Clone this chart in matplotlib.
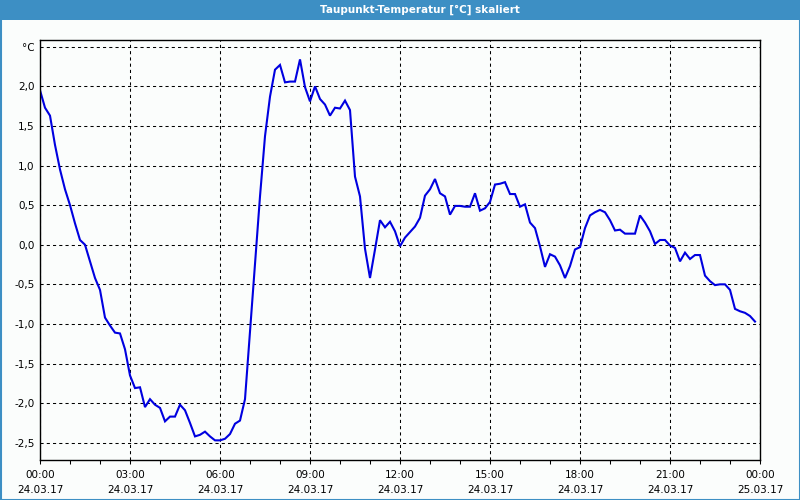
import matplotlib
matplotlib.use("Agg")
import matplotlib.pyplot as plt
from matplotlib.patches import Rectangle
import numpy as np

# Time in hours (10-minute steps) and dew point values in °C
hours = [i / 6 for i in range(144)]
taupunkt = [
    1.95, 1.73, 1.63, 1.26, 0.95, 0.70, 0.50, 0.27, 0.06, 0.00,
    -0.21, -0.42, -0.57, -0.92, -1.02, -1.11, -1.12, -1.32, -1.65, -1.81,
    -1.80, -2.05, -1.95, -2.02, -2.06, -2.23, -2.17, -2.17, -2.02, -2.09,
    -2.25, -2.42, -2.40, -2.36, -2.42, -2.47, -2.47, -2.45, -2.39, -2.26,
    -2.22, -1.95, -1.10, -0.25, 0.61, 1.37, 1.87, 2.21, 2.27, 2.05,
    2.06, 2.06, 2.34, 1.99, 1.81, 2.00, 1.84, 1.77, 1.63, 1.73,
    1.72, 1.82, 1.70, 0.86, 0.61, -0.05, -0.42, -0.06, 0.31, 0.22,
    0.29, 0.17, -0.02, 0.09, 0.16, 0.23, 0.34, 0.62, 0.70, 0.83,
    0.65, 0.61, 0.38, 0.49, 0.49, 0.48, 0.48, 0.65, 0.43, 0.46,
    0.54, 0.76, 0.77, 0.79, 0.64, 0.64, 0.48, 0.51, 0.28, 0.21,
    -0.02, -0.28, -0.12, -0.15, -0.26, -0.42, -0.27, -0.06, -0.03, 0.21,
    0.37, 0.41, 0.44, 0.41, 0.31, 0.18, 0.19, 0.14, 0.14, 0.14,
    0.37, 0.28, 0.17, 0.01, 0.06, 0.06, -0.01, -0.04, -0.21, -0.10,
    -0.18, -0.13, -0.13, -0.39, -0.46, -0.51, -0.50, -0.50, -0.57, -0.81,
    -0.84, -0.86, -0.90, -0.97,
]

x_ticks = [0, 3, 6, 9, 12, 15, 18, 21, 24]
x_labels = ["00:00\n24.03.17", "03:00\n24.03.17", "06:00\n24.03.17",
            "09:00\n24.03.17", "12:00\n24.03.17", "15:00\n24.03.17",
            "18:00\n24.03.17", "21:00\n24.03.17", "00:00\n25.03.17"]
y_ticks = [-2.5, -2.0, -1.5, -1.0, -0.5, 0.0, 0.5, 1.0, 1.5, 2.0, 2.5]
y_labels = ["-2,5", "-2,0", "-1,5", "-1,0", "-0,5", "0,0", "0,5",
            "1,0", "1,5", "2,0", "°C"]
title = "Taupunkt-Temperatur [°C] skaliert"

plt.rcParams['font.family'] = ['DejaVu Sans']

bg = '#fbfdfc'
frame_blue = '#3d8fc4'

fig = plt.figure(figsize=(8, 5), dpi=100, facecolor=bg)
ax = fig.add_axes([40 / 800, 40 / 500, 720 / 800, 420 / 500])
ax.set_facecolor(bg)

ax.plot(hours, taupunkt, color='#0000e0', lw=1.5, solid_joinstyle='miter')

ax.set_xlim(0, 24)
ax.set_ylim(-2.718, 2.585)

ax.set_xticks(x_ticks)
ax.set_xticklabels(x_labels, fontsize=7.5, linespacing=1.6)
ax.set_xticks(range(25), minor=True)
ax.set_yticks(y_ticks)
ax.set_yticklabels(y_labels, fontsize=7.5)

ax.tick_params(axis='x', which='both', direction='out', length=3, width=0.75,
               pad=4.5, colors='black')
ax.tick_params(axis='y', which='both', length=0, pad=4)

ax.grid(True, which='major', color='black', linestyle=(0, (3, 3)), lw=0.75)

for s in ax.spines.values():
    s.set_linewidth(1.0)
    s.set_color('black')

# title bar and outer frame
fig.patches.append(Rectangle((0, 1 - 20 / 500), 1, 20 / 500, transform=fig.transFigure,
                             facecolor=frame_blue, edgecolor='none', zorder=0))
fig.patches.append(Rectangle((0.5 / 800, 0.5 / 500), 799 / 800, 499 / 500,
                             transform=fig.transFigure, facecolor='none',
                             edgecolor=frame_blue, lw=1.5, zorder=5))
fig.text(420 / 800, 1 - 10 / 500, title, color='white', fontsize=7.5,
         fontweight='bold', ha='center', va='center')

fig.savefig('out.png', dpi=100, facecolor=bg)
